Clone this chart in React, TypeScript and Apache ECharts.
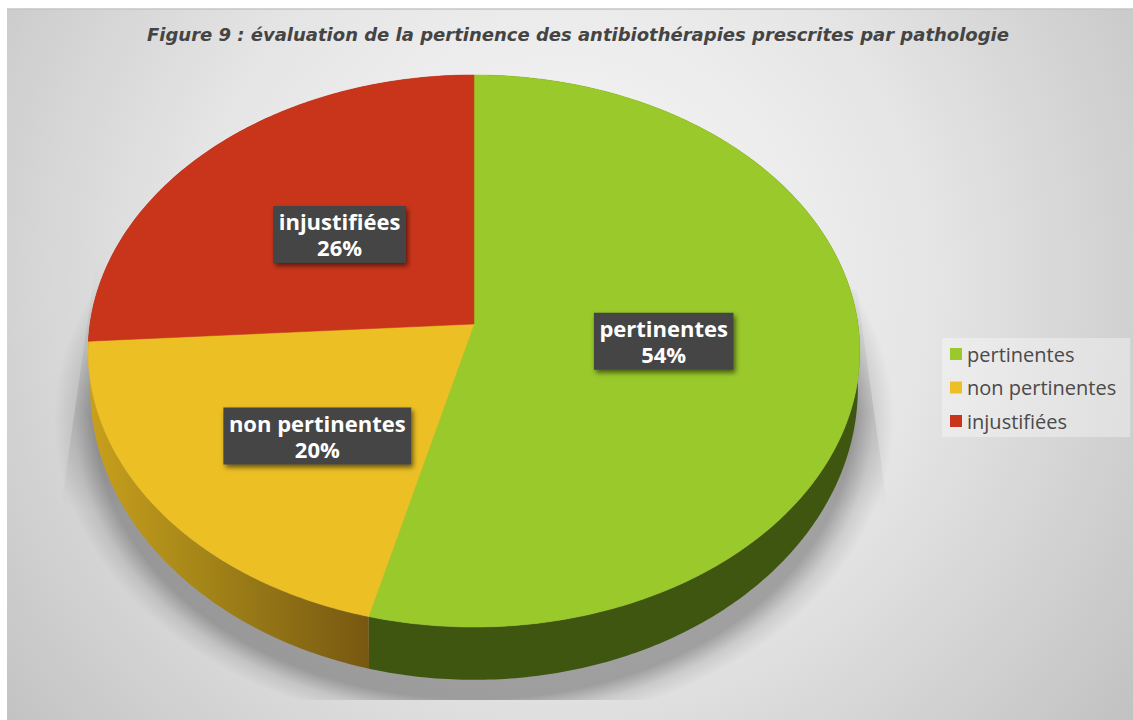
import React, { useEffect, useRef } from "react";
import * as echarts from "echarts";

const TITLE = "Figure 9 : évaluation de la pertinence des antibiothérapies prescrites par pathologie";
const CATEGORIES = ["pertinentes", "non pertinentes", "injustifiées"];
const VALUES = [54, 20, 26];
const COLORS = ["#99c92b", "#ecc024", "#c9351b"];

const FONT = "'Open Sans', 'Noto Sans', sans-serif";
const TOTAL = VALUES.reduce((a, b) => a + b, 0);

// perspective of the pie: a unit circle is projected on the top and bottom planes
const K = -0.0978;
const TOP_PLANE = { cx: 474, cy: 324, a: 384, b: 273.4 };
const BOTTOM_PLANE = { cx: 474, cy: 359.5, a: 382, b: 289 };

function project(plane: any, theta: number, r = 1) {
  const X = r * Math.sin(theta);
  const Y = -r * Math.cos(theta);
  const w = 1 + K * Y;
  return [plane.cx + (plane.a * X) / w, plane.cy + (plane.b * Y) / w];
}

function sliceAngles(i: number, value: number) {
  let before = 0;
  for (let j = 0; j < i; j++) before += VALUES[j];
  const a = (before / TOTAL) * Math.PI * 2;
  const b = ((before + value) / TOTAL) * Math.PI * 2;
  return [a, b];
}

function arcPoints(plane: any, a: number, b: number) {
  const n = Math.max(8, Math.ceil((b - a) * 80));
  const pts: number[][] = [];
  for (let s = 0; s <= n; s++) pts.push(project(plane, a + ((b - a) * s) / n));
  return pts;
}

const WALL_FILLS: any[] = [
  "#3f5611",
  {
    type: "linear", x: 88, y: 0, x2: 372, y2: 0, global: true,
    colorStops: [
      { offset: 0, color: "#c9a01c" },
      { offset: 0.45, color: "#a08218" },
      { offset: 1, color: "#775711" },
    ],
  },
  "#7a2010",
];

const LABEL_NUDGE = [
  [-2, 0],
  [-4, 22],
  [1, 1],
];

const measure = (() => {
  const ctx = document.createElement("canvas").getContext("2d")!;
  return (t: string, font: string) => {
    ctx.font = font;
    return ctx.measureText(t).width;
  };
})();

const BG_GRADIENT: any = {
  type: "radial", x: 560, y: 280, r: 745, global: true,
  colorStops: [
    { offset: 0, color: "#fbfbfb" },
    { offset: 0.5, color: "#e5e5e5" },
    { offset: 1, color: "#bfbfbf" },
  ],
};

function wallItem(_p: any, api: any) {
  const i = _p.dataIndex;
  const [a, b] = sliceAngles(i, api.value(0));
  const pts = arcPoints(TOP_PLANE, a, b).concat(arcPoints(BOTTOM_PLANE, a, b).reverse());
  return { type: "polygon", shape: { points: pts }, style: { fill: WALL_FILLS[i] }, silent: true };
}

function topItem(i: number) {
  return (_p: any, api: any) => {
    const v = api.value(0);
    const [a, b] = sliceAngles(i, v);
    const pts = [[TOP_PLANE.cx, TOP_PLANE.cy]].concat(arcPoints(TOP_PLANE, a, b));
    const [lx0, ly0] = project(TOP_PLANE, (a + b) / 2, 0.5);
    const lx = lx0 + LABEL_NUDGE[i][0];
    const ly = ly0 + LABEL_NUDGE[i][1];
    const fontSize = 22;
    const w = measure(CATEGORIES[i], `bold ${fontSize}px 'Open Sans'`) + 11;
    const h = 57;
    return {
      type: "group",
      children: [
        { type: "polygon", shape: { points: pts }, style: { fill: COLORS[i], stroke: COLORS[i], lineWidth: 0.5 }, silent: true },
        {
          type: "rect", z2: 5,
          shape: { x: lx - w / 2, y: ly - h / 2, width: w, height: h },
          style: { fill: "#444444", shadowBlur: 5, shadowOffsetX: 2, shadowOffsetY: 3, shadowColor: "rgba(0,0,0,0.55)" },
          silent: true,
        },
        {
          type: "text", z2: 6,
          x: lx, y: ly,
          style: {
            text: `${CATEGORIES[i]}\n${v}%`,
            fill: "#ffffff", fontFamily: FONT, fontWeight: "bold", fontSize,
            lineHeight: 26, align: "center", verticalAlign: "middle",
          },
          silent: true,
        },
      ],
    };
  };
}

export default function App() {
  const ref = useRef<HTMLDivElement>(null);
  useEffect(() => {
    const chart = echarts.init(ref.current!, undefined, { renderer: "svg" });
    chart.setOption({
      animation: false,
      backgroundColor: "#ffffff",
      title: {
        text: TITLE, left: 573, top: 20, textAlign: "center",
        textStyle: { fontFamily: "'DejaVu Sans', sans-serif", fontStyle: "italic", fontWeight: "bold", fontSize: 18, color: "#444444" },
      },
      legend: {
        orient: "vertical", left: 942, top: 338,
        data: CATEGORIES, icon: "rect", itemWidth: 12, itemHeight: 12, itemGap: 13.5,
        padding: [6, 14, 6, 8], selectedMode: false,
        backgroundColor: "rgba(255,255,255,0.35)",
        textStyle: { fontFamily: FONT, fontSize: 20, color: "#4a4a4a" },
      },
      graphic: [
        { type: "rect", z: 0, silent: true, shape: { x: 7, y: 9, width: 1126, height: 711 }, style: { fill: BG_GRADIENT } },
        { type: "line", z: 0, silent: true, shape: { x1: 7, y1: 9, x2: 1133, y2: 9 }, style: { stroke: "#c4c4c4", lineWidth: 1.5 } },
        {
          type: "polygon", z: 0, silent: true,
          shape: { points: [[857, 290], [888, 512], [800, 560], [140, 560], [62, 500], [96, 262], [474, 262]] },
          style: {
            fill: {
              type: "linear", x: 0, y: 262, x2: 0, y2: 512, global: true,
              colorStops: [
                { offset: 0, color: "rgba(0,0,0,0)" },
                { offset: 0.6, color: "rgba(0,0,0,0.1)" },
                { offset: 1, color: "rgba(0,0,0,0.0)" },
              ],
            },
          },
        },
        {
          type: "circle", z: 0, silent: true,
          x: 474, y: 420, scaleX: 4.2, scaleY: 3.1,
          shape: { cx: 0, cy: 0, r: 100 },
          style: {
            fill: {
              type: "radial", x: 0.5, y: 0.5, r: 0.5,
              colorStops: [
                { offset: 0, color: "rgba(0,0,0,0.3)" },
                { offset: 0.9, color: "rgba(0,0,0,0.3)" },
                { offset: 0.95, color: "rgba(0,0,0,0.1)" },
                { offset: 1, color: "rgba(0,0,0,0)" },
              ],
            },
          },
        },
        { type: "rect", z: 0, silent: true, shape: { x: 7, y: 700, width: 1126, height: 20 }, style: { fill: BG_GRADIENT } },
      ],
      series: [
        {
          type: "custom", name: "parois", coordinateSystem: "none", silent: true, z: 2,
          renderItem: wallItem, data: VALUES.map((v) => [v]),
        },
        ...CATEGORIES.map((name, i) => ({
          type: "custom", name, coordinateSystem: "none", silent: true, z: 3,
          itemStyle: { color: COLORS[i] },
          renderItem: topItem(i), data: [[VALUES[i]]],
        })),
      ],
    });
    return () => chart.dispose();
  }, []);
  return <div ref={ref} style={{ position: "absolute", left: 0, top: 0, width: 1133, height: 720 }} />;
}
